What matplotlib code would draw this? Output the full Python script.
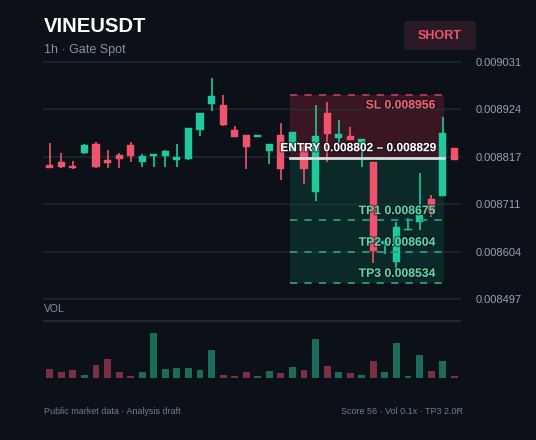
import matplotlib
matplotlib.use("Agg")
import matplotlib.pyplot as plt
from matplotlib.patches import Rectangle, FancyBboxPatch
import matplotlib.patheffects as pe
import numpy as np

plt.rcParams['font.family'] = ['Liberation Sans', 'DejaVu Sans']

# ---------------- data ----------------
opens  = [0.008799, 0.008806, 0.008796, 0.008825, 0.008847, 0.008811, 0.008821, 0.008844,
          0.008805, 0.008819, 0.008818, 0.008811, 0.008813, 0.008878, 0.008936, 0.008934,
          0.008877, 0.008866, 0.008861, 0.008830, 0.008866, 0.008830, 0.008839, 0.008739,
          0.008916, 0.008860, 0.008864, 0.008846, 0.008806, 0.008621, 0.008580, 0.008652,
          0.008670, 0.008722, 0.008729, 0.008836]
highs  = [0.008848, 0.008825, 0.008807, 0.008846, 0.008851, 0.008833, 0.008826, 0.008851,
          0.008824, 0.008824, 0.008832, 0.008845, 0.008882, 0.008916, 0.008994, 0.008956,
          0.008887, 0.008866, 0.008866, 0.008845, 0.008894, 0.008873, 0.008848, 0.008934,
          0.008940, 0.008900, 0.008884, 0.008857, 0.008806, 0.008627, 0.008670, 0.008680,
          0.008780, 0.008731, 0.008907, 0.008836]
lows   = [0.008792, 0.008793, 0.008790, 0.008824, 0.008792, 0.008793, 0.008792, 0.008806,
          0.008795, 0.008795, 0.008795, 0.008795, 0.008810, 0.008865, 0.008921, 0.008887,
          0.008862, 0.008790, 0.008861, 0.008801, 0.008765, 0.008830, 0.008756, 0.008719,
          0.008806, 0.008848, 0.008854, 0.008795, 0.008579, 0.008598, 0.008559, 0.008652,
          0.008653, 0.008683, 0.008729, 0.008809]
closes = [0.008793, 0.008794, 0.008791, 0.008844, 0.008795, 0.008804, 0.008812, 0.008819,
          0.008819, 0.008824, 0.008830, 0.008816, 0.008882, 0.008915, 0.008954, 0.008888,
          0.008862, 0.008840, 0.008866, 0.008845, 0.008789, 0.008873, 0.008789, 0.008864,
          0.008869, 0.008869, 0.008854, 0.008857, 0.008606, 0.008627, 0.008660, 0.008656,
          0.008686, 0.008694, 0.008870, 0.008809]
volumes = [26, 17, 23, 8, 40, 56, 18, 6, 18, 134, 27, 30, 29, 25, 83, 8, 6, 18,
           5, 22, 14, 32, 23, 117, 36, 17, 14, 8, 50, 19, 104, 6, 70, 22, 50, 5]

price_ticks = [0.009031, 0.008924, 0.008817, 0.008711, 0.008604, 0.008497]
sl_price = 0.008956
entry_low, entry_high = 0.008802, 0.008829
tp_prices = [0.008675, 0.008604, 0.008534]
tp_names = ["TP1", "TP2", "TP3"]

title = "VINEUSDT"
subtitle = "1h · Gate Spot"
side = "SHORT"
footer_left = "Public market data · Analysis draft"
footer_right = "Score 56 · Vol 0.1x · TP3 2.0R"

# ---------------- style ----------------
BG = "#0b1019"
GRID = "#1f2631"
UP = "#1fc99c"
DOWN = "#f0546a"
UP_VOL = "#1b6b5c"
DOWN_VOL = "#7a3041"
LABEL = "#95a2b6"

W, H = 536, 440
fig = plt.figure(figsize=(W / 100, H / 100), dpi=100, facecolor=BG)

def frac_rect(x0, y0, x1, y1):
    return [x0 / W, 1 - y1 / H, (x1 - x0) / W, (y1 - y0) / H]

ax = fig.add_axes(frac_rect(44, 61.7, 460, 299.3))
ax.set_facecolor(BG)
n = len(opens)
x = np.arange(n)
ax.set_xlim(-0.5, n - 0.5)
ax.set_ylim(price_ticks[-1], price_ticks[0])
for s in ax.spines.values():
    s.set_visible(False)
ax.set_xticks([])
ax.set_yticks(price_ticks)
ax.yaxis.tick_right()
ax.set_yticklabels([f"{p:.6f}" for p in price_ticks], color=LABEL, fontsize=8)
ax.tick_params(axis='y', length=0, pad=11.5)
for p in price_ticks:
    ax.axhline(p, color=GRID, lw=1.2, zorder=0, clip_on=False)

# trade zone
zx0, zx1 = 20.75, 34.1
entry_mid = (entry_low + entry_high) / 2
ax.add_patch(Rectangle((zx0, entry_mid), zx1 - zx0, sl_price - entry_mid,
                       facecolor="#391621", edgecolor="none", zorder=1))
ax.add_patch(Rectangle((zx0, tp_prices[-1]), zx1 - zx0, entry_mid - tp_prices[-1],
                       facecolor="#0c2929", edgecolor="none", zorder=1))
for p in price_ticks[1:-1]:
    ax.plot([zx0, zx1], [p, p], color="#233238", lw=1.0, zorder=1.5)

# candles
for i in range(n):
    o, h, l, c = opens[i], highs[i], lows[i], closes[i]
    col = UP if c >= o else DOWN
    ax.vlines(x[i], l, h, color=col, lw=1.2, zorder=3)
    bot = min(o, c)
    hgt = max(abs(c - o), 0.0000025)
    ax.bar(x[i], hgt, bottom=bot, width=0.62, color=col, edgecolor=col, lw=0.3, zorder=4)

# zone lines
ax.plot([zx0, zx1], [sl_price, sl_price], color="#b2404f", lw=1.3, ls=(0, (4, 4)), zorder=5)
for p in tp_prices:
    ax.plot([zx0, zx1], [p, p], color="#2e9a7e", lw=1.3, ls=(0, (4, 4)), zorder=5)
ax.plot([zx0, zx1], [entry_mid, entry_mid], color="#d9dce0", lw=2.0, zorder=6)

lx = 436
def put(label, price, dy_px, color, fs=8.8):
    ax.annotate(label, xy=(zx1, price), xycoords='data',
                xytext=((lx - (44 + (zx1 + 0.5) * 416 / 36)) * 0.72, -dy_px * 0.72),
                textcoords='offset points', ha='right', va='center',
                color=color, fontsize=fs, fontweight='bold', zorder=8,
                path_effects=[pe.withStroke(linewidth=2, foreground="#0b1019", alpha=0.5)])

put(f"SL {sl_price:.6f}", sl_price, 10.4, "#f0606f")
put(f"ENTRY {entry_low:.6f} – {entry_high:.6f}", entry_mid, -9.4, "#ffffff", fs=8.6)
for name, p in zip(tp_names, tp_prices):
    put(f"{name} {p:.6f}", p, -9, "#5fd4a8")

# volume
vax = fig.add_axes(frac_rect(44, 321, 460, 378))
vax.set_facecolor(BG)
vax.set_xlim(-0.5, n - 0.5)
vax.set_ylim(0, max(volumes) * 56.7 / 44.7)
vcols = [UP_VOL if closes[i] >= opens[i] else DOWN_VOL for i in range(n)]
vax.bar(x, volumes, width=0.6, color=vcols, zorder=3)
for s in vax.spines.values():
    s.set_visible(False)
vax.set_xticks([]); vax.set_yticks([])
vax.axhline(vax.get_ylim()[1], color=GRID, lw=1.5, clip_on=False)

# texts
fig.text(44 / W, 1 - 27 / H, title, color="white", fontsize=14.6, fontweight='bold', va='center', ha='left')
fig.text(44 / W, 1 - 49.5 / H, subtitle, color="#8792a4", fontsize=9.0, va='center', ha='left')
btn = FancyBboxPatch((404 / W, 1 - 50 / H), 72 / W, 29 / H,
                     boxstyle="round,pad=0,rounding_size=0.008",
                     transform=fig.transFigure, facecolor="#2b1a25", edgecolor="none")
fig.patches.append(btn)
fig.text(440 / W, 1 - 36 / H, side, color=DOWN, fontsize=9.0, fontweight='bold', va='center', ha='center')
fig.text(44 / W, 1 - 309 / H, "VOL", color="#8792a4", fontsize=7.5, va='center', ha='left')
fig.text(44 / W, 1 - 411.5 / H, footer_left, color="#6f7d92", fontsize=6.5, va='center', ha='left')
fig.text(463 / W, 1 - 411.5 / H, footer_right, color="#6f7d92", fontsize=6.5, va='center', ha='right')

fig.savefig("out.png", dpi=100, facecolor=BG)
